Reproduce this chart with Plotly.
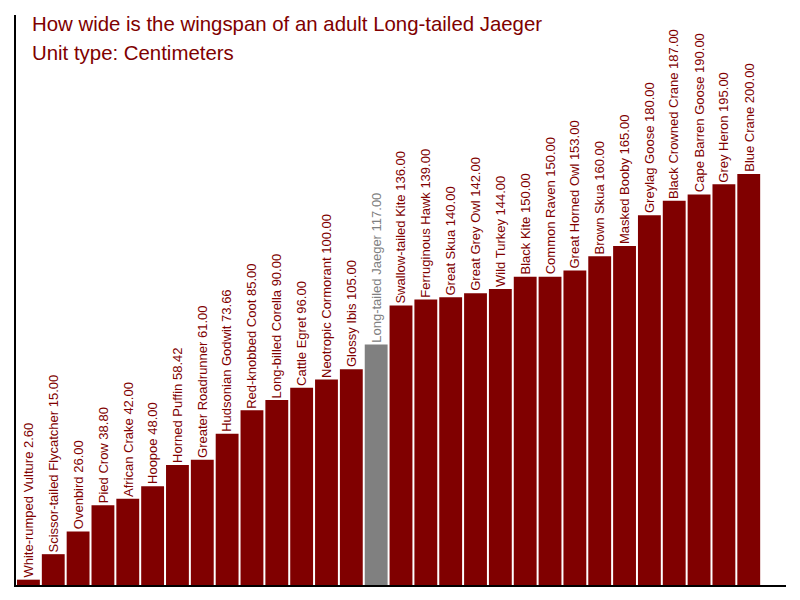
import plotly.graph_objects as go

birds = ["White-rumped Vulture", "Scissor-tailed Flycatcher", "Ovenbird", "Pied Crow",
         "African Crake", "Hoopoe", "Horned Puffin", "Greater Roadrunner", "Hudsonian Godwit",
         "Red-knobbed Coot", "Long-billed Corella", "Cattle Egret", "Neotropic Cormorant",
         "Glossy Ibis", "Long-tailed Jaeger", "Swallow-tailed Kite", "Ferruginous Hawk",
         "Great Skua", "Great Grey Owl", "Wild Turkey", "Black Kite", "Common Raven",
         "Great Horned Owl", "Brown Skua", "Masked Booby", "Greylag Goose",
         "Black Crowned Crane", "Cape Barren Goose", "Grey Heron", "Blue Crane"]
wingspan = [2.60, 15.00, 26.00, 38.80, 42.00, 48.00, 58.42, 61.00, 73.66, 85.00, 90.00,
            96.00, 100.00, 105.00, 117.00, 136.00, 139.00, 140.00, 142.00, 144.00, 150.00,
            150.00, 153.00, 160.00, 165.00, 180.00, 187.00, 190.00, 195.00, 200.00]
highlight = "Long-tailed Jaeger"

MAROON = "#800000"
GREY = "#808080"
FONT = "Liberation Sans, Arial, sans-serif"
colors = [GREY if b == highlight else MAROON for b in birds]
labels = [f"{b} {v:.2f}" for b, v in zip(birds, wingspan)]
xpos = list(range(len(birds)))

fig = go.Figure(go.Bar(
    x=xpos, y=wingspan,
    marker=dict(color=colors, line=dict(width=0)),
    hovertext=labels, hoverinfo="text",
))

annotations = [
    dict(x=x, y=v, xref="x", yref="y", text=t, textangle=-90, showarrow=False,
         xanchor="center", yanchor="bottom", yshift=0,
         font=dict(family=FONT, size=13, color=c))
    for x, v, t, c in zip(xpos, wingspan, labels, colors)
]
annotations += [
    dict(text="How wide is the wingspan of an adult Long-tailed Jaeger", xref="paper", yref="paper",
         x=0.018, y=0.985, xanchor="left", yanchor="middle", showarrow=False,
         font=dict(family=FONT, size=20.4, color=MAROON)),
    dict(text="Unit type: Centimeters", xref="paper", yref="paper",
         x=0.018, y=0.933, xanchor="left", yanchor="middle", showarrow=False,
         font=dict(family=FONT, size=20.4, color=MAROON)),
]

fig.update_layout(
    width=800, height=600,
    margin=dict(l=8, r=22, t=7, b=23),
    paper_bgcolor="white", plot_bgcolor="white",
    bargap=0.08, showlegend=False,
    font=dict(family=FONT),
    xaxis=dict(range=[-0.5, 30.5], showline=True, linecolor="black", linewidth=1.5,
               showticklabels=False, ticks="", showgrid=False, zeroline=False),
    yaxis=dict(range=[0, 277.4], showline=True, linecolor="black", linewidth=1.5,
               showticklabels=False, ticks="", showgrid=False, zeroline=False),
    annotations=annotations,
)

fig.write_html("out.html")
